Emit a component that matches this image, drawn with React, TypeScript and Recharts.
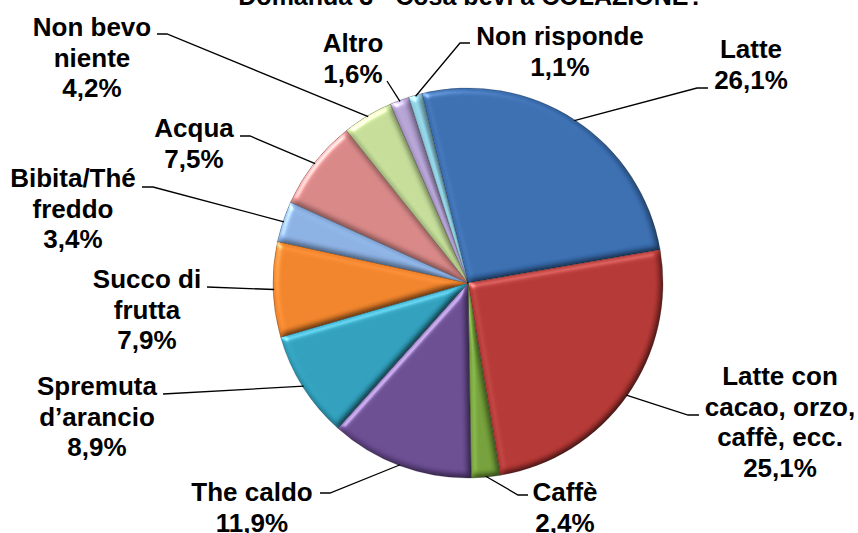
import React from 'react';
import { PieChart, Pie, Cell } from 'recharts';

// Data
const categories = [
  'Latte',
  'Latte con cacao, orzo, caffè, ecc.',
  'Caffè',
  'The caldo',
  'Spremuta d’arancio',
  'Succo di frutta',
  'Bibita/Thé freddo',
  'Acqua',
  'Non bevo niente',
  'Altro',
  'Non risponde',
];
const values = [26.1, 25.1, 2.4, 11.9, 8.9, 7.9, 3.4, 7.5, 4.2, 1.6, 1.1];
const labelLines = [
  ['Latte'],
  ['Latte con', 'cacao, orzo,', 'caffè, ecc.'],
  ['Caffè'],
  ['The caldo'],
  ['Spremuta', 'd’arancio'],
  ['Succo di', 'frutta'],
  ['Bibita/Thé', 'freddo'],
  ['Acqua'],
  ['Non bevo', 'niente'],
  ['Altro'],
  ['Non risponde'],
];
const title = 'Domanda 3 - Cosa bevi a COLAZIONE?';

const colors = [
  '#386cae', '#b23633', '#729e38', '#684a8f', '#2f9ebb', '#ee822a',
  '#89aee0', '#d48584', '#c2da96', '#b19fd0', '#8dcee0',
];

// manual label placement (like Excel's dragged labels): text centre/baseline, elbow, end of leader
const labelLayout = [
  { tx: 751, ty: 58, ex: 697, ey: 88, hx: 708, hy: 88 },
  { tx: 780, ty: 385, ex: 688, ey: 415, hx: 699, hy: 415 },
  { tx: 565, ty: 501, ex: 518, ey: 495, hx: 528, hy: 495 },
  { tx: 252, ty: 501, ex: 330, ey: 493, hx: 320, hy: 493 },
  { tx: 97, ty: 395, ex: 163, ey: 394, hx: 163, hy: 394 },
  { tx: 147, ty: 288, ex: 207, ey: 287, hx: 207, hy: 287 },
  { tx: 73, ty: 187, ex: 153, ey: 187, hx: 142, hy: 187 },
  { tx: 194, ty: 137, ex: 250, ey: 136, hx: 240, hy: 136 },
  { tx: 92, ty: 36, ex: 167, ey: 34, hx: 157, hy: 34 },
  { tx: 353, ty: 52, ex: 387, ey: 81, hx: 387, hy: 81 },
  { tx: 560, ty: 45, ex: 460, ey: 43, hx: 470, hy: 43 },
];

const data = categories.map((name, i) => ({ name, value: values[i] }));

const FONT = '"Liberation Sans", Arial, sans-serif';
const RAD = Math.PI / 180;
const fmt = (v: number) => v.toFixed(1).replace('.', ',') + '%';

const renderLabel = (props: any) => {
  const { cx, cy, midAngle, outerRadius, index } = props;
  const pos = labelLayout[index];
  const sx = cx + (outerRadius - 1) * Math.cos(-midAngle * RAD);
  const sy = cy + (outerRadius - 1) * Math.sin(-midAngle * RAD);
  const lines = [...labelLines[index], fmt(values[index])];
  return (
    <g key={`lbl-${index}`}>
      <polyline
        points={`${sx},${sy} ${pos.ex},${pos.ey} ${pos.hx},${pos.hy}`}
        fill="none"
        stroke="#000"
        strokeWidth={1.3}
      />
      <text x={pos.tx} y={pos.ty} textAnchor="middle" fontFamily={FONT} fontWeight="bold" fontSize={26} fill="#000">
        {lines.map((l, i) => (
          <tspan key={i} x={pos.tx} y={pos.ty + i * 30.5}>{l}</tspan>
        ))}
      </text>
    </g>
  );
};

export default function App() {
  return (
    <div style={{ position: 'absolute', left: 0, top: 0, width: 858, height: 533, background: '#fff', overflow: 'hidden' }}>
      <svg width={0} height={0} style={{ position: 'absolute' }}>
        <defs>
          {/* rough imitation of Excel's bevel: darker edges away from light, highlight on lit edges */}
          <filter id="bevel" x="-10%" y="-10%" width="120%" height="120%" colorInterpolationFilters="sRGB">
            <feGaussianBlur in="SourceAlpha" stdDeviation="3" result="blur" />
            <feDiffuseLighting in="blur" surfaceScale="3" diffuseConstant="1.15" lightingColor="#ffffff" result="diff">
              <feDistantLight azimuth="225" elevation="60" />
            </feDiffuseLighting>
            <feComposite in="SourceGraphic" in2="diff" operator="arithmetic" k1="1" k2="0" k3="0" k4="0" result="shaded" />
            <feSpecularLighting in="blur" surfaceScale="3" specularConstant="0.4" specularExponent="30" lightingColor="#ffffff" result="spec">
              <feDistantLight azimuth="225" elevation="40" />
            </feSpecularLighting>
            <feComposite in="spec" in2="SourceAlpha" operator="in" result="specIn" />
            <feComposite in="shaded" in2="specIn" operator="arithmetic" k1="0" k2="1" k3="1" k4="0" />
          </filter>
        </defs>
      </svg>
      <PieChart width={858} height={533} margin={{ top: 0, right: 0, bottom: 0, left: 0 }}>
        <Pie
          data={data}
          dataKey="value"
          nameKey="name"
          cx={468}
          cy={283}
          outerRadius={195}
          startAngle={103.7}
          endAngle={-256.3}
          stroke="rgba(0,0,0,0.3)"
          strokeWidth={0.8}
          label={renderLabel}
          labelLine={false}
          isAnimationActive={false}
        >
          {data.map((d, i) => (
            <Cell key={d.name} fill={colors[i]} filter="url(#bevel)" />
          ))}
        </Pie>
      </PieChart>
      <svg width={858} height={30} style={{ position: 'absolute', left: 0, top: 0, pointerEvents: 'none' }}>
        <text x={471} y={5} textAnchor="middle" fontFamily={FONT} fontWeight="bold" fontSize={25} fill="#000">
          {title}
        </text>
      </svg>
    </div>
  );
}
